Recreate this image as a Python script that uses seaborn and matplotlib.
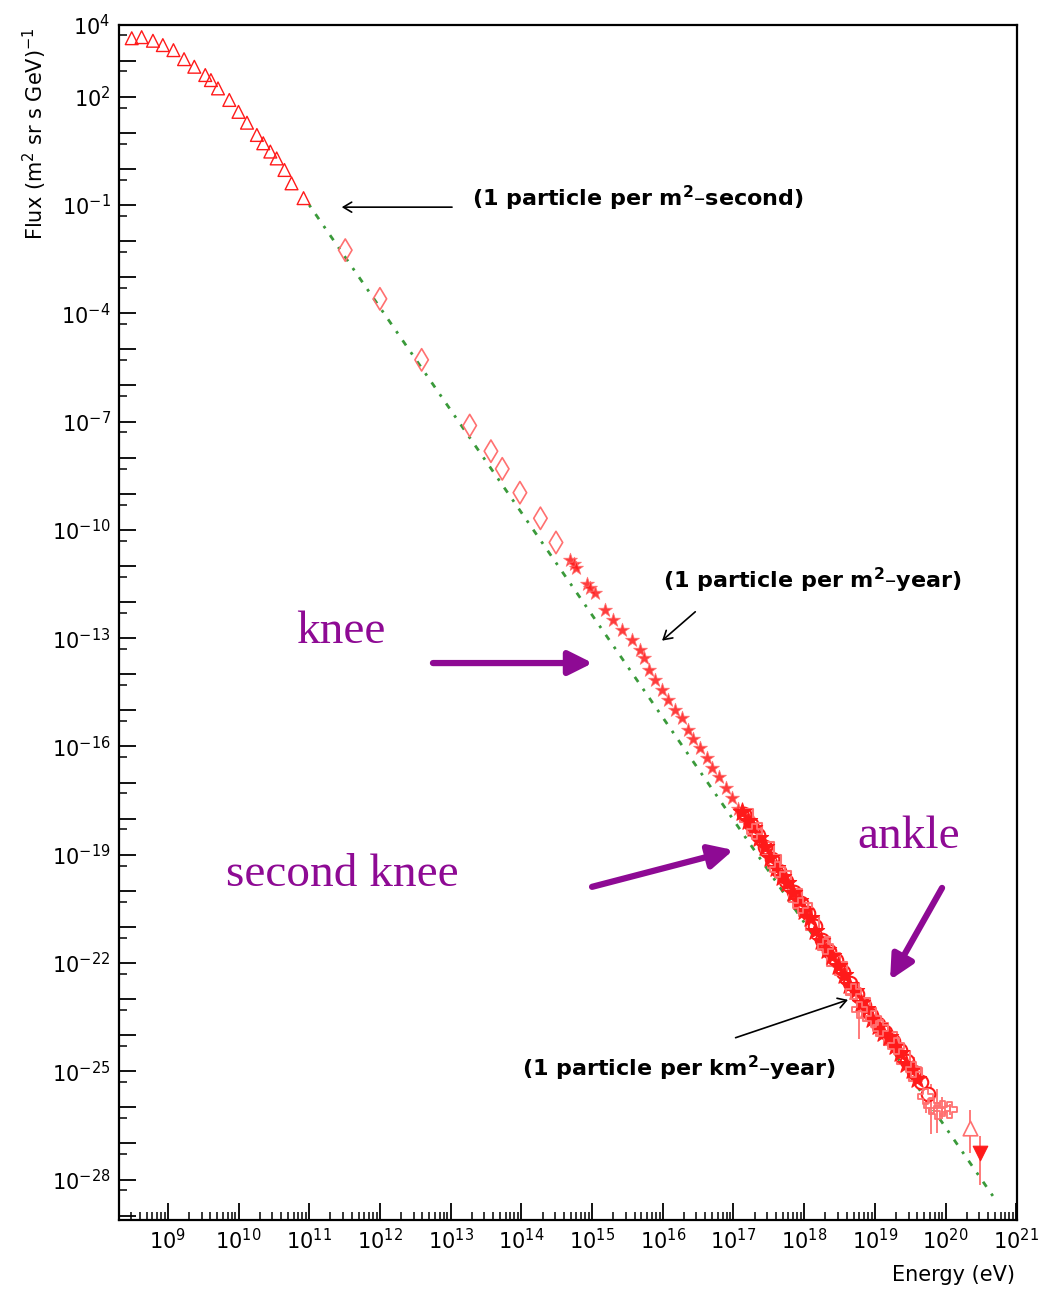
import numpy as np
import pandas as pd
import matplotlib
matplotlib.use("Agg")
import matplotlib.pyplot as plt
import matplotlib.ticker as mticker
import seaborn as sns

# ---------------- data (log10 of energy in eV, log10 of flux) ----------------
tri_logE = [8.49, 8.63, 8.79, 8.93, 9.08, 9.23, 9.375, 9.53, 9.61, 9.71, 9.87,
            10.00, 10.12, 10.26, 10.35, 10.45, 10.54, 10.65, 10.75, 10.92]
tri_logF = [3.62, 3.65, 3.55, 3.43, 3.29, 3.04, 2.83, 2.60, 2.46, 2.23, 1.91,
            1.58, 1.28, 0.94, 0.71, 0.48, 0.29, -0.03, -0.40, -0.81]

dia_logE = [11.51, 12.00, 12.59, 13.27, 13.57, 13.73, 13.98, 14.27, 14.49]
dia_logF = [-2.25, -3.60, -5.29, -7.11, -7.82, -8.31, -8.97, -9.68, -10.35]

star_logE = [14.69, 14.74, 14.78, 14.93, 14.97, 15.04, 15.18, 15.30, 15.42, 15.56,
             15.68, 15.73, 15.81, 15.89, 15.99, 16.08, 16.17, 16.27, 16.36, 16.43,
             16.53, 16.62, 16.69, 16.80, 16.90, 16.98, 17.07, 17.19]
star_logF = [-10.83, -10.95, -11.06, -11.50, -11.62, -11.76, -12.22, -12.50, -12.77, -13.05,
             -13.33, -13.56, -13.88, -14.16, -14.44, -14.71, -14.99, -15.22, -15.54, -15.80,
             -16.05, -16.33, -16.60, -16.84, -17.16, -17.44, -17.72, -17.99]

band1_logE = [17.12, 17.20, 17.28, 17.36, 17.44, 17.52, 17.60, 17.68, 17.76, 17.84,
              17.92, 18.00, 18.08, 18.16, 18.24, 18.32, 18.40, 18.48, 18.56, 18.64,
              18.72, 18.80, 18.88, 18.96, 19.04, 19.12, 19.20, 19.28, 19.36, 19.44,
              19.52, 19.60]
band1_logF = [-17.82, -18.07, -18.25, -18.55, -18.78, -19.10, -19.36, -19.62, -19.78, -20.05,
              -20.28, -20.55, -20.76, -21.10, -21.38, -21.64, -21.80, -22.08, -22.33, -22.62,
              -22.78, -23.10, -23.28, -23.55, -23.74, -23.95, -24.06, -24.30, -24.48, -24.80,
              -24.96, -25.22]

band2_logE = [17.15, 17.25, 17.35, 17.45, 17.55, 17.65, 17.75, 17.85, 17.95, 18.05,
              18.15, 18.25, 18.35, 18.45, 18.55, 18.65, 18.75, 18.85, 18.95, 19.05,
              19.15, 19.25, 19.35, 19.45, 19.55, 19.65, 19.75]
band2_logF = [-17.88, -18.15, -18.45, -18.78, -19.12, -19.45, -19.72, -20.02, -20.35, -20.62,
              -20.98, -21.35, -21.66, -21.92, -22.25, -22.55, -22.86, -23.16, -23.45, -23.70,
              -23.92, -24.15, -24.42, -24.72, -25.02, -25.30, -25.62]

band4_logE = [17.18, 17.32, 17.48, 17.58, 17.72, 17.88, 18.02, 18.12, 18.28, 18.42,
              18.52, 18.68, 18.84, 18.92, 19.10, 19.22, 19.40, 19.58]
band4_logF = [-17.92, -18.30, -18.82, -19.18, -19.62, -20.12, -20.52, -20.90, -21.45, -21.90,
              -22.15, -22.72, -23.15, -23.42, -23.85, -24.10, -24.62, -25.10]

band3_logE = [17.30, 17.62, 17.95, 18.30, 18.70, 18.78, 18.98, 19.08, 19.30, 19.55,
              19.72, 19.80, 19.88, 19.95, 20.06]
band3_logF = [-18.35, -19.40, -20.40, -21.55, -22.80, -23.30, -23.55, -23.80, -24.30, -24.95,
              -25.70, -25.95, -26.10, -26.02, -26.07]
band3_lo = [0.05, 0.05, 0.06, 0.08, 0.15, 0.80, 0.30, 0.30, 0.20, 0.35,
            0.45, 0.80, 0.60, 0.30, 0.15]
band3_hi = [0.05, 0.05, 0.06, 0.08, 0.15, 0.60, 0.30, 0.30, 0.20, 0.35,
            0.45, 0.60, 0.60, 0.30, 0.15]

hi_tri_logE = [20.35]
hi_tri_logF = [-26.58]
hi_tri_lo = [0.68]
hi_tri_hi = [0.51]

lim_logE = [20.49]
lim_logF = [-27.27]
lim_lo = [0.87]
lim_hi = [0.47]

fit_logE = [11.0, 20.72]
fit_logF = [-1.0, -28.6]

x_major_exps = list(range(8, 22))
x_label_exps = list(range(9, 22))
y_major_exps = list(range(-29, 5))
y_label_exps = [4, 2, -1, -4, -7, -10, -13, -16, -19, -22, -25, -28]

texts_black = ["(1 particle per m$^{2}$\u2013second)",
               "(1 particle per m$^{2}$\u2013year)",
               "(1 particle per km$^{2}$\u2013year)"]
texts_purple = ["knee", "second knee", "ankle"]


def to_df(le, lf):
    return pd.DataFrame({"E": np.power(10.0, le), "F": np.power(10.0, lf)})


# ---------------- figure ----------------
sns.set_theme(style="white")
plt.rcParams["font.family"] = ["DejaVu Sans"]
plt.rcParams["mathtext.fontset"] = "dejavusans"
plt.rcParams["mathtext.default"] = "regular"

fig = plt.figure(figsize=(10.58, 12.9), dpi=100)
fig.patch.set_facecolor("white")
ax = fig.add_axes([0.11248, 0.05426, 0.84877, 0.92674])
ax.set_facecolor("white")
ax.set_xscale("log")
ax.set_yscale("log")

RED = "#ff1a1a"
LRED = "#ff7070"
GREEN = "#3a9a3a"
PURPLE = "#8e0a94"

# fit line
sns.lineplot(data=to_df(fit_logE, fit_logF), x="E", y="F", ax=ax, sort=False,
             color=GREEN, lw=2.0, linestyle=(0, (1.0, 3.0, 2.2, 3.0)), zorder=2)

# low energy direct measurements (open triangles)
sns.scatterplot(data=to_df(tri_logE, tri_logF), x="E", y="F", ax=ax, marker="^",
                s=85, facecolors="none", edgecolor=RED, linewidth=1.0, zorder=3)

# diamonds
sns.scatterplot(data=to_df(dia_logE, dia_logF), x="E", y="F", ax=ax, marker="d",
                s=130, facecolors="none", edgecolor=LRED, linewidth=1.2, zorder=3)

# stars
sns.scatterplot(data=to_df(star_logE, star_logF), x="E", y="F", ax=ax, marker="*",
                s=110, color=RED, edgecolor=LRED, linewidth=0.6, alpha=0.85, zorder=3)

# dense band
b3 = to_df(band3_logE, band3_logF)
lo = b3["F"] - np.power(10.0, np.array(band3_logF) - np.array(band3_lo))
hi = np.power(10.0, np.array(band3_logF) + np.array(band3_hi)) - b3["F"]
ax.errorbar(b3["E"], b3["F"], yerr=[lo, hi], fmt="none", ecolor=LRED, elinewidth=1.3, zorder=2)

sns.scatterplot(data=to_df(band2_logE, band2_logF), x="E", y="F", ax=ax, marker="o",
                s=95, facecolors="white", edgecolor=RED, linewidth=1.5, zorder=3)
sns.scatterplot(data=to_df(band4_logE, band4_logF), x="E", y="F", ax=ax, marker="s",
                s=85, facecolors="none", edgecolor=LRED, linewidth=1.5, zorder=3)
sns.scatterplot(data=to_df(band1_logE, band1_logF), x="E", y="F", ax=ax, marker="*",
                s=190, color=RED, edgecolor=RED, linewidth=0.8, zorder=4)
sns.scatterplot(data=b3, x="E", y="F", ax=ax, marker="P",
                s=120, facecolors="none", edgecolor=LRED, linewidth=1.3, zorder=4)

# highest energy points
ht = to_df(hi_tri_logE, hi_tri_logF)
lo = ht["F"] - np.power(10.0, np.array(hi_tri_logF) - np.array(hi_tri_lo))
hi = np.power(10.0, np.array(hi_tri_logF) + np.array(hi_tri_hi)) - ht["F"]
ax.errorbar(ht["E"], ht["F"], yerr=[lo, hi], fmt="none", ecolor=LRED, elinewidth=1.3, zorder=2)
sns.scatterplot(data=ht, x="E", y="F", ax=ax, marker="^", s=110,
                facecolors="white", edgecolor=LRED, linewidth=1.2, zorder=4)

lm = to_df(lim_logE, lim_logF)
lo = lm["F"] - np.power(10.0, np.array(lim_logF) - np.array(lim_lo))
hi = np.power(10.0, np.array(lim_logF) + np.array(lim_hi)) - lm["F"]
ax.errorbar(lm["E"], lm["F"], yerr=[lo, hi], fmt="none", ecolor=LRED, elinewidth=1.3, zorder=2)
sns.scatterplot(data=lm, x="E", y="F", ax=ax, marker="v", s=110,
                color=RED, edgecolor=RED, linewidth=0.8, zorder=4)

# ---------------- axes styling ----------------
ax.set_xlim(10 ** 8.31, 10 ** 21.01)
ax.set_ylim(10 ** -29.12, 10 ** 4)
ax.set_xlabel("")
ax.set_ylabel("")

ax.xaxis.set_major_locator(mticker.FixedLocator([10.0 ** e for e in x_major_exps]))
ax.xaxis.set_major_formatter(mticker.FixedFormatter(
    ["$10^{%d}$" % e if e in x_label_exps else "" for e in x_major_exps]))
ax.xaxis.set_minor_locator(mticker.LogLocator(base=10, subs=np.arange(2, 10), numticks=200))
ax.xaxis.set_minor_formatter(mticker.NullFormatter())

ax.yaxis.set_major_locator(mticker.FixedLocator([10.0 ** e for e in y_major_exps]))
ax.yaxis.set_major_formatter(mticker.FixedFormatter(
    ["$10^{%d}$" % e if e in y_label_exps else "" for e in y_major_exps]))
ax.yaxis.set_minor_locator(mticker.LogLocator(base=10, subs=[5.0], numticks=200))
ax.yaxis.set_minor_formatter(mticker.NullFormatter())

ax.tick_params(which="both", direction="in", top=False, right=False,
               bottom=True, left=True, colors="black", labelsize=15)
ax.tick_params(which="major", length=12, width=1.3, pad=6)
ax.tick_params(which="minor", length=5.5, width=1.1)
for sp in ax.spines.values():
    sp.set_visible(True)
    sp.set_color("black")
    sp.set_linewidth(1.6)

fig.text(0.033, 0.979, r"Flux (m$^{2}$ sr s GeV)$^{-1}$", rotation=90,
         ha="center", va="top", fontsize=15, color="black")
fig.text(0.959, 0.0116, "Energy (eV)", ha="right", va="center", fontsize=15, color="black")

# ---------------- annotations ----------------
def P(le, lf):
    return (10.0 ** le, 10.0 ** lf)


ax.text(*P(13.30, -0.81), texts_black[0], fontsize=16, fontweight="bold",
        ha="left", va="center", color="black")
ax.text(*P(16.00, -11.39), texts_black[1], fontsize=16, fontweight="bold",
        ha="left", va="center", color="black")
ax.text(*P(14.01, -24.91), texts_black[2], fontsize=16, fontweight="bold",
        ha="left", va="center", color="black")

black_arrows = [((13.02, -1.06), (11.46, -1.06)),
                ((16.46, -12.27), (15.99, -13.07)),
                ((17.03, -24.07), (18.62, -23.02))]
for tail, head in black_arrows:
    ax.annotate("", xy=P(*head), xytext=P(*tail),
                arrowprops=dict(arrowstyle="->,head_length=0.5,head_width=0.3",
                                lw=1.2, color="black", shrinkA=0, shrinkB=0))

serif = ["Liberation Serif", "DejaVu Serif"]
ax.text(*P(10.81, -13.13), texts_purple[0], fontsize=34, family=serif,
        ha="left", va="baseline", color=PURPLE)
ax.text(*P(9.82, -19.86), texts_purple[1], fontsize=34, family=serif,
        ha="left", va="baseline", color=PURPLE)
ax.text(*P(18.75, -18.81), texts_purple[2], fontsize=34, family=serif,
        ha="left", va="baseline", color=PURPLE)

purple_arrows = [((12.75, -13.69), (15.01, -13.69)),
                 ((15.00, -19.89), (17.00, -18.87)),
                 ((19.95, -19.92), (19.215, -22.47))]
for tail, head in purple_arrows:
    ax.annotate("", xy=P(*head), xytext=P(*tail),
                arrowprops=dict(arrowstyle="-|>,head_length=1.1,head_width=0.55",
                                lw=4.5, color=PURPLE, mutation_scale=13,
                                shrinkA=0, shrinkB=0))

fig.savefig("out.png", dpi=100, facecolor="white")
